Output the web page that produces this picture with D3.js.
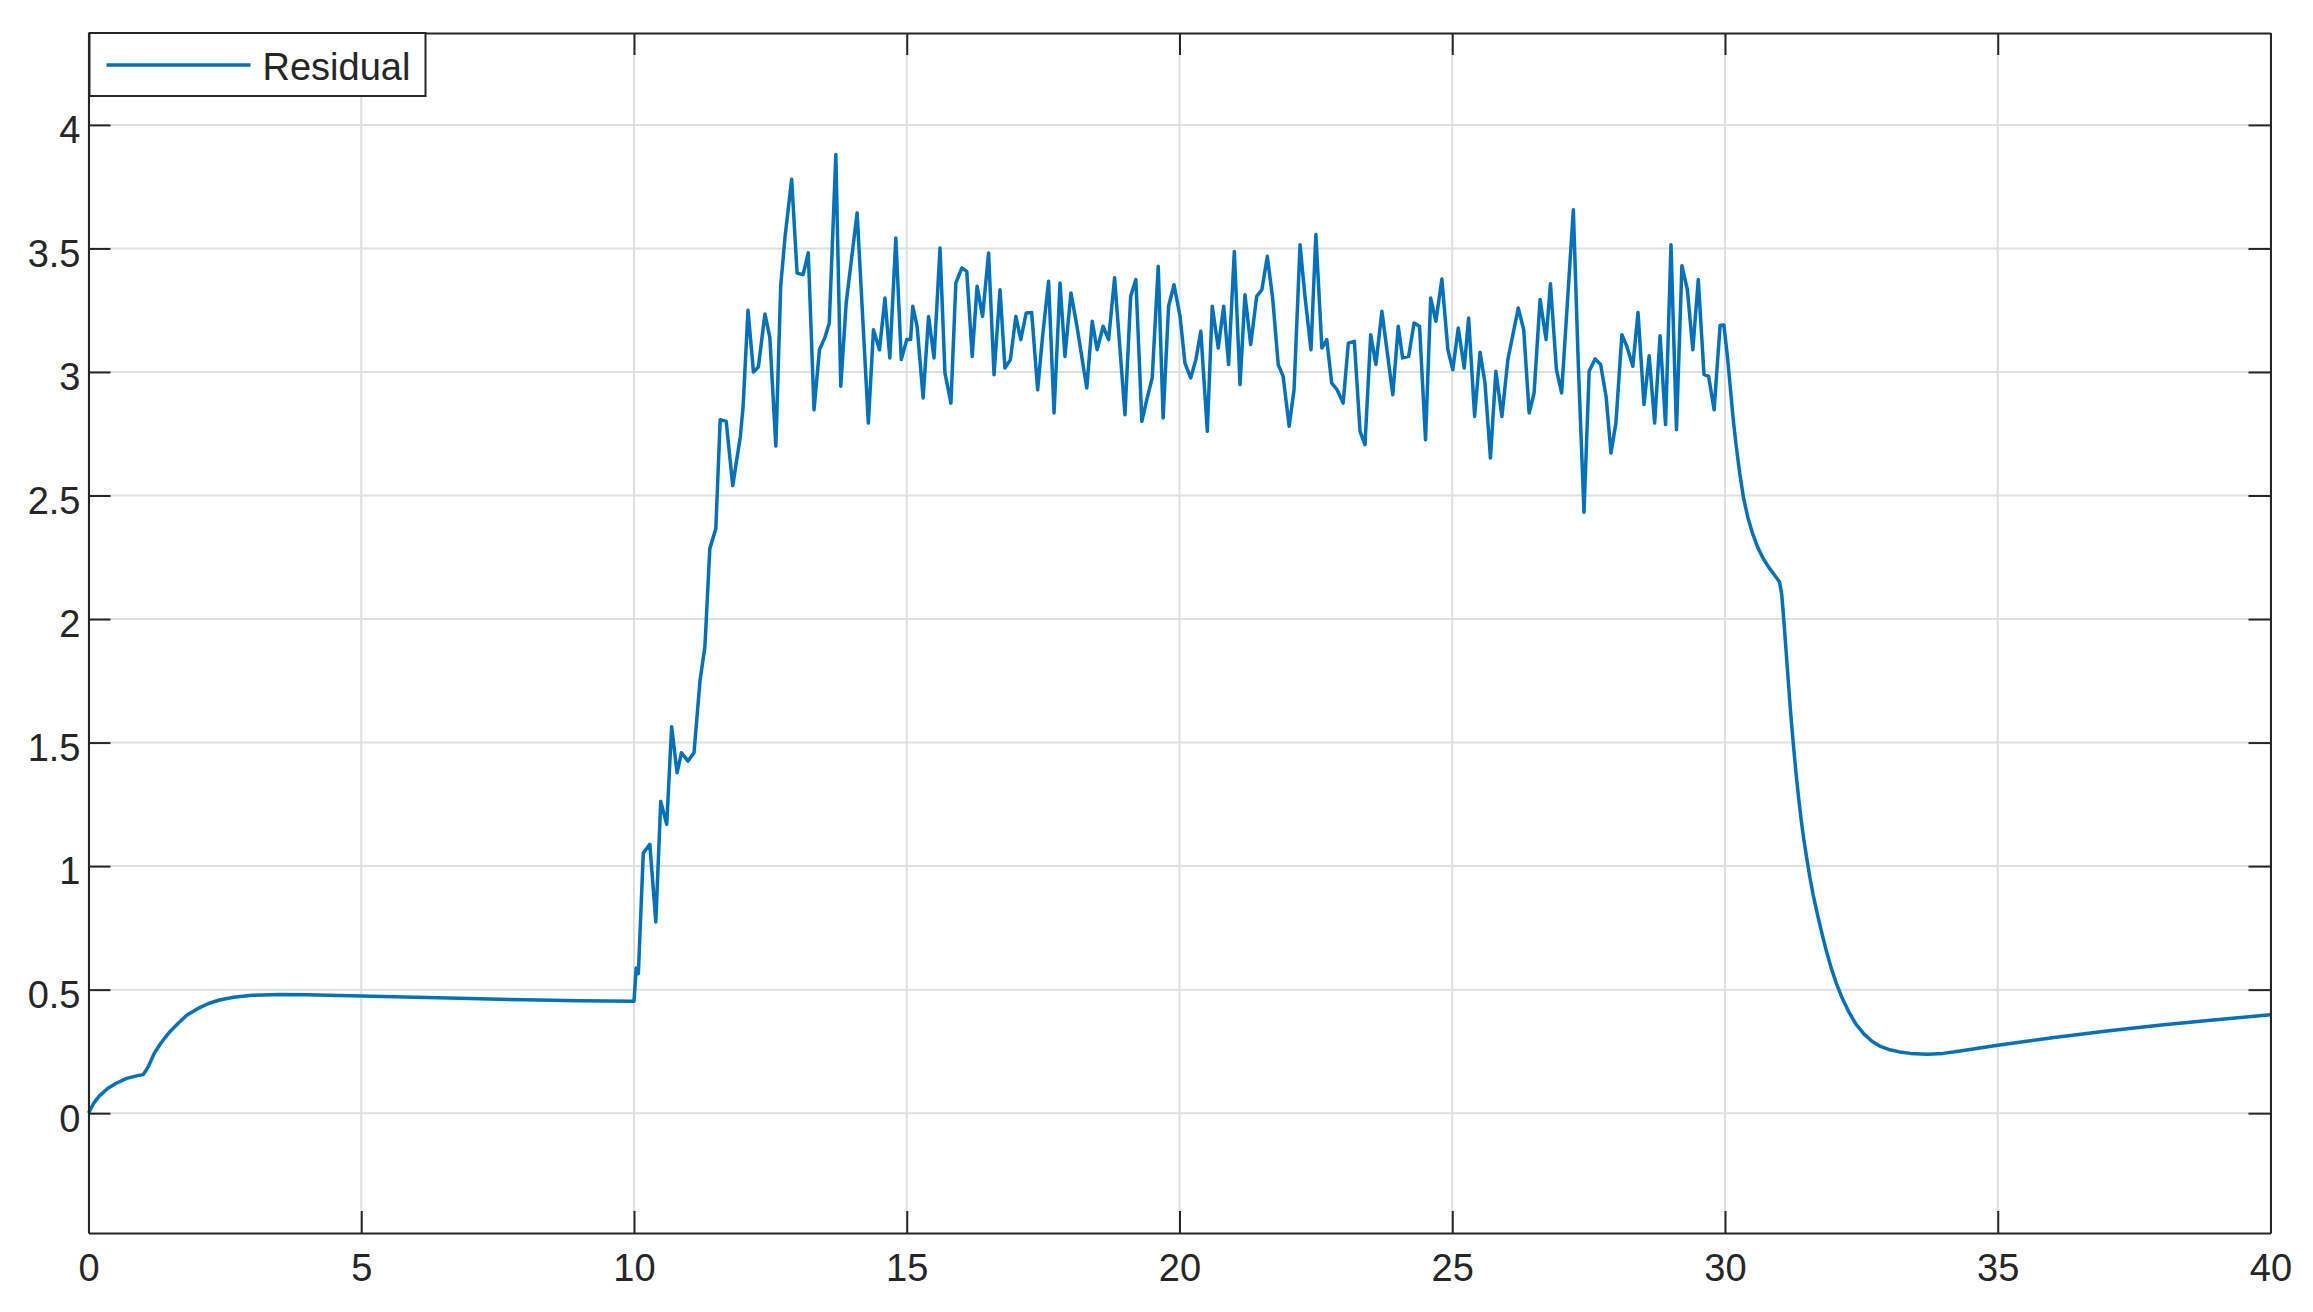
<!DOCTYPE html>
<html>
<head>
<meta charset="utf-8">
<script src="https://cdn.jsdelivr.net/npm/d3@7"></script>
<style>
  body { margin: 0; background: white; }
  svg { display: block; }
  text { font-family: 'Liberation Sans', Arial, sans-serif; fill: #262626; }
</style>
</head>
<body>
<div id="chart"></div>
<script>
// values
let time = [
  0, 0.1, 0.2, 0.35, 0.5, 0.7, 0.9, 1.0, 1.06, 1.1, 1.2, 1.3, 1.4, 1.5, 1.65, 1.8, 2.0, 2.2, 2.4, 2.66, 3.0, 3.5, 4, 5, 6, 7, 8, 9, 10.0,
  10.04, 10.08, 10.17, 10.29, 10.40, 10.49, 10.60, 10.69, 10.79, 10.87, 10.99, 11.10, 11.21, 11.30, 11.39, 11.50, 11.58, 11.69, 11.81, 11.95, 12.0, 12.09,
  12.19, 12.28, 12.40, 12.49, 12.60, 12.69, 12.77, 12.89, 12.99, 13.10, 13.195, 13.30, 13.40, 13.50, 13.58, 13.70, 13.79, 13.89, 14.09, 14.296, 14.39, 14.50, 14.60, 14.69, 14.80, 14.90, 15.00, 15.07, 15.11, 15.19, 15.30, 15.40, 15.50, 15.61, 15.70, 15.81, 15.90, 16.01, 16.10, 16.20, 16.29, 16.39, 16.50,
  16.60, 16.71, 16.80, 16.90, 17.00, 17.09, 17.19, 17.29, 17.40, 17.49, 17.60, 17.70, 17.81, 17.90, 18.01, 18.12, 18.30, 18.40, 18.49, 18.60, 18.70, 18.81, 19.00, 19.105, 19.20, 19.31, 19.40, 19.50, 19.61, 19.70, 19.80, 19.90, 20.01, 20.10, 20.205, 20.30, 20.39, 20.51, 20.60, 20.71, 20.81, 20.90,
  21.005, 21.11, 21.20, 21.305, 21.415, 21.51, 21.61, 21.71, 21.81, 21.90, 22.01, 22.10, 22.21, 22.30, 22.41, 22.50, 22.61, 22.70, 22.79, 22.89, 23.00, 23.095, 23.205, 23.31, 23.40, 23.505, 23.60, 23.71, 23.91, 24.01, 24.09, 24.20, 24.30, 24.40, 24.51, 24.605, 24.70, 24.81, 24.92, 25.01, 25.11, 25.22, 25.30, 25.41, 25.51,
  25.60, 25.70, 25.80, 25.91, 26.02, 26.21, 26.31, 26.41, 26.50, 26.61, 26.72, 26.80, 26.91, 27.005, 27.13, 27.22, 27.31, 27.415, 27.51, 27.62, 27.72, 27.82, 27.91, 28.00, 28.11, 28.20, 28.31, 28.405, 28.515, 28.61, 28.71, 28.81, 28.91, 29.01, 29.11, 29.21, 29.31, 29.41, 29.51, 29.615, 29.70, 29.80, 29.91, 29.98,
  30.05, 30.1, 30.15, 30.2, 30.27, 30.34, 30.42, 30.5, 30.6, 30.7, 30.8, 30.9, 31.0, 31.04, 31.08, 31.12, 31.16, 31.2, 31.25, 31.3, 31.35, 31.4, 31.45, 31.5, 31.56, 31.62, 31.7, 31.78, 31.86, 31.95,
  32.05, 32.15, 32.27, 32.4, 32.55, 32.7, 32.85, 33.0, 33.2, 33.4, 33.7, 34.0, 34.31, 35, 36, 37, 38, 39, 40
]
let residual = [
  0, 0.042, 0.07, 0.1, 0.12, 0.141, 0.152, 0.156, 0.175, 0.19, 0.24, 0.275, 0.305, 0.332, 0.365, 0.396, 0.423, 0.444, 0.458, 0.469, 0.477, 0.48, 0.479, 0.474, 0.469, 0.464, 0.459, 0.455, 0.453,
  0.588, 0.565, 1.053, 1.088, 0.774, 1.262, 1.169, 1.564, 1.378, 1.459, 1.425, 1.459, 1.75, 1.889, 2.285, 2.366, 2.807, 2.8, 2.54, 2.74, 2.86, 3.25,
  3.0, 3.02, 3.235, 3.14, 2.7, 3.35, 3.55, 3.78, 3.4, 3.394, 3.482, 2.847, 3.09, 3.14, 3.198, 3.88, 2.942, 3.279, 3.644, 2.793, 3.171, 3.09, 3.299, 3.057, 3.542, 3.05, 3.131, 3.131, 3.266, 3.185, 2.895, 3.225, 3.057, 3.502, 2.996, 2.874, 3.36, 3.421, 3.407, 3.063, 3.347, 3.225, 3.482,
  2.989, 3.333, 3.016, 3.05, 3.225, 3.131, 3.239, 3.241, 2.928, 3.144, 3.367, 2.834, 3.36, 3.063, 3.32, 3.185, 2.935, 3.205, 3.09, 3.185, 3.131, 3.381, 2.827, 3.306, 3.374, 2.8, 2.888, 2.976, 3.428, 2.814, 3.266, 3.353, 3.225, 3.036, 2.976, 3.05, 3.165, 2.76, 3.266, 3.097, 3.266, 3.03,
  3.488, 2.949, 3.313, 3.111, 3.306, 3.333, 3.468, 3.293, 3.03, 2.982, 2.78, 2.928, 3.515, 3.306, 3.09, 3.556, 3.097, 3.131, 2.955, 2.928, 2.874, 3.117, 3.124, 2.76, 2.706, 3.151, 3.03, 3.246, 2.908, 3.185, 3.057, 3.063, 3.198, 3.185, 2.726, 3.299, 3.205, 3.376, 3.09, 3.009, 3.178, 3.016, 3.218, 2.82, 3.08,
  2.955, 2.652, 3.003, 2.82, 3.05, 3.259, 3.171, 2.834, 2.915, 3.293, 3.131, 3.357, 3.009, 2.915, 3.347, 3.657, 3.036, 2.432, 3.003, 3.053, 3.03, 2.901, 2.672, 2.793, 3.151, 3.104, 3.023, 3.241, 2.868, 3.066, 2.793, 3.147, 2.787, 3.515, 2.766, 3.43, 3.333, 3.09, 3.374, 2.99, 2.982, 2.847, 3.188, 3.19,
  3.05, 2.93, 2.81, 2.71, 2.59, 2.49, 2.41, 2.35, 2.29, 2.245, 2.21, 2.18, 2.15, 2.1, 1.99, 1.87, 1.75, 1.63, 1.5, 1.38, 1.275, 1.18, 1.1, 1.03, 0.95, 0.88, 0.8, 0.725, 0.655, 0.585,
  0.52, 0.465, 0.41, 0.36, 0.32, 0.29, 0.27, 0.258, 0.248, 0.242, 0.238, 0.242, 0.252, 0.275, 0.305, 0.333, 0.357, 0.378, 0.398
]
let xLimits = [0, 40]
let yLimits = [-0.485, 4.372]
let xTicks = [0, 5, 10, 15, 20, 25, 30, 35, 40]
let yTicks = [0, 0.5, 1, 1.5, 2, 2.5, 3, 3.5, 4]
let legendLabel = 'Residual'

let margin = { top: 33, left: 88.5, right: 42.5, bottom: 79 }
let width = 2313 - margin.left - margin.right
let height = 1312 - margin.top - margin.bottom

let svgRoot = d3
  .select('#chart')
  .append('svg')
  .attr('width', 2313)
  .attr('height', 1312)

let svg = svgRoot
  .append('g')
  .attr('transform', 'translate(' + margin.left + ',' + margin.top + ')')

let x = d3.scaleLinear().domain(xLimits).range([0, width])
let y = d3.scaleLinear().domain(yLimits).range([height, 0])

let axisColor = '#262626'
let fontSize = 38

// grid
svg
  .append('g')
  .selectAll('.vgrid')
  .data(xTicks)
  .enter()
  .append('line')
  .attr('class', 'vgrid')
  .attr('x1', d => x(d))
  .attr('x2', d => x(d))
  .attr('y1', 0)
  .attr('y2', height)
  .attr('stroke', '#dfdfdf')
  .attr('stroke-width', 2)

svg
  .append('g')
  .selectAll('.hgrid')
  .data(yTicks)
  .enter()
  .append('line')
  .attr('class', 'hgrid')
  .attr('x1', 0)
  .attr('x2', width)
  .attr('y1', d => y(d))
  .attr('y2', d => y(d))
  .attr('stroke', '#dfdfdf')
  .attr('stroke-width', 2)

// data line
let points = time.map((t, i) => [t, residual[i]])
let line = d3
  .line()
  .x(d => x(d[0]))
  .y(d => y(d[1]))

svg
  .append('path')
  .datum(points)
  .attr('d', line)
  .attr('fill', 'none')
  .attr('stroke', '#0072BD')
  .attr('stroke-width', 3.5)
  .attr('stroke-linejoin', 'round')

// axes, ticks pointing inward on all four sides
function styleAxis(g) {
  g.select('.domain').attr('stroke', axisColor).attr('stroke-width', 2)
  g.selectAll('.tick line').attr('stroke', axisColor).attr('stroke-width', 2)
  g.selectAll('.tick text')
    .attr('font-size', fontSize)
    .attr('font-family', "'Liberation Sans', Arial, sans-serif")
    .attr('fill', axisColor)
}

svg
  .append('g')
  .attr('transform', 'translate(0,' + height + ')')
  .call(d3.axisBottom(x).tickValues(xTicks).tickSizeInner(-22).tickSizeOuter(0).tickPadding(21))
  .call(styleAxis)

svg
  .append('g')
  .call(d3.axisTop(x).tickValues(xTicks).tickSizeInner(-22).tickSizeOuter(0).tickFormat(''))
  .call(styleAxis)

let yAxis = svg
  .append('g')
  .call(d3.axisLeft(y).tickValues(yTicks).tickSizeInner(-22).tickSizeOuter(0).tickPadding(8).tickFormat(d3.format('')))
  .call(styleAxis)
yAxis.selectAll('.tick text').attr('dy', '0.47em')

svg
  .append('g')
  .attr('transform', 'translate(' + width + ',0)')
  .call(d3.axisRight(y).tickValues(yTicks).tickSizeInner(-22).tickSizeOuter(0).tickFormat(''))
  .call(styleAxis)

// legend
let legend = svg.append('g').attr('transform', 'translate(1,0)')

legend
  .append('rect')
  .attr('x', 0)
  .attr('y', 0)
  .attr('width', 336)
  .attr('height', 63)
  .attr('fill', 'white')
  .attr('stroke', axisColor)
  .attr('stroke-width', 2)

legend
  .append('line')
  .attr('x1', 17)
  .attr('x2', 161)
  .attr('y1', 32)
  .attr('y2', 32)
  .attr('stroke', '#0072BD')
  .attr('stroke-width', 3.5)

legend
  .append('text')
  .attr('x', 173)
  .attr('y', 47)
  .attr('font-size', fontSize)
  .text(legendLabel)
</script>
</body>
</html>
